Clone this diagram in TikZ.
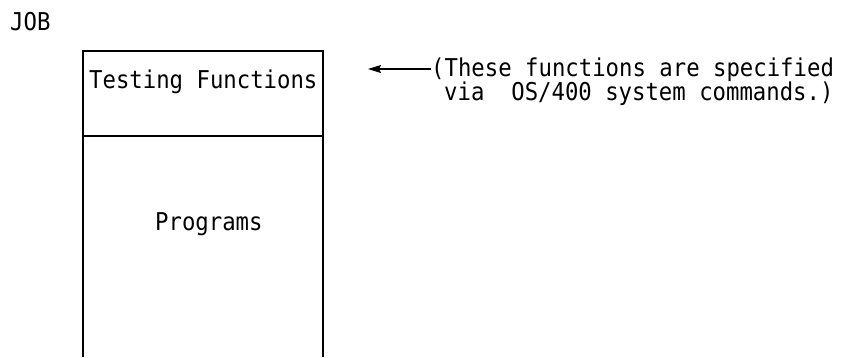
\documentclass[tikz,border=0pt]{standalone}
\usepackage{fontspec}
\setmonofont{DejaVu Sans Mono}
\usetikzlibrary{arrows.meta}
\tikzset{
  txt/.style={inner sep=0pt, anchor=base west, yscale=1.1, font=\ttfamily\fontsize{22.3}{24}\selectfont},
  boxline/.style={line width=1.1pt, black},
}
\begin{document}
\begin{tikzpicture}[x=1pt,y=-1pt]
\useasboundingbox (0,0) rectangle (843,357);
% box outline (open at bottom)
\coordinate (bl) at (83,357);
\coordinate (tl) at (83,51);
\coordinate (tr) at (323,51);
\coordinate (br) at (323,357);
\coordinate (dl) at (83,136);
\coordinate (dr) at (323,136);
\draw[boxline] (bl) -- (tl) -- (tr) -- (br);
\draw[boxline] (dl) -- (dr);
% texts
\node[txt] (job) at (10,30) {JOB};
\node[txt] (tf) at (89,88) {Testing Functions};
\node[txt] (prog) at (155,230) {Programs};
\node[txt] (n1) at (431,76) {(These functions are specified};
\node[txt] (n2) at (444,100) {via~~OS/400 system commands.)};
% arrow
\coordinate (tip) at (368,69);
\draw[line width=1.1pt, -{Stealth[length=13pt,width=8pt,inset=2pt]}] (n1.west |- tip) -- (tip);
\end{tikzpicture}
\end{document}
